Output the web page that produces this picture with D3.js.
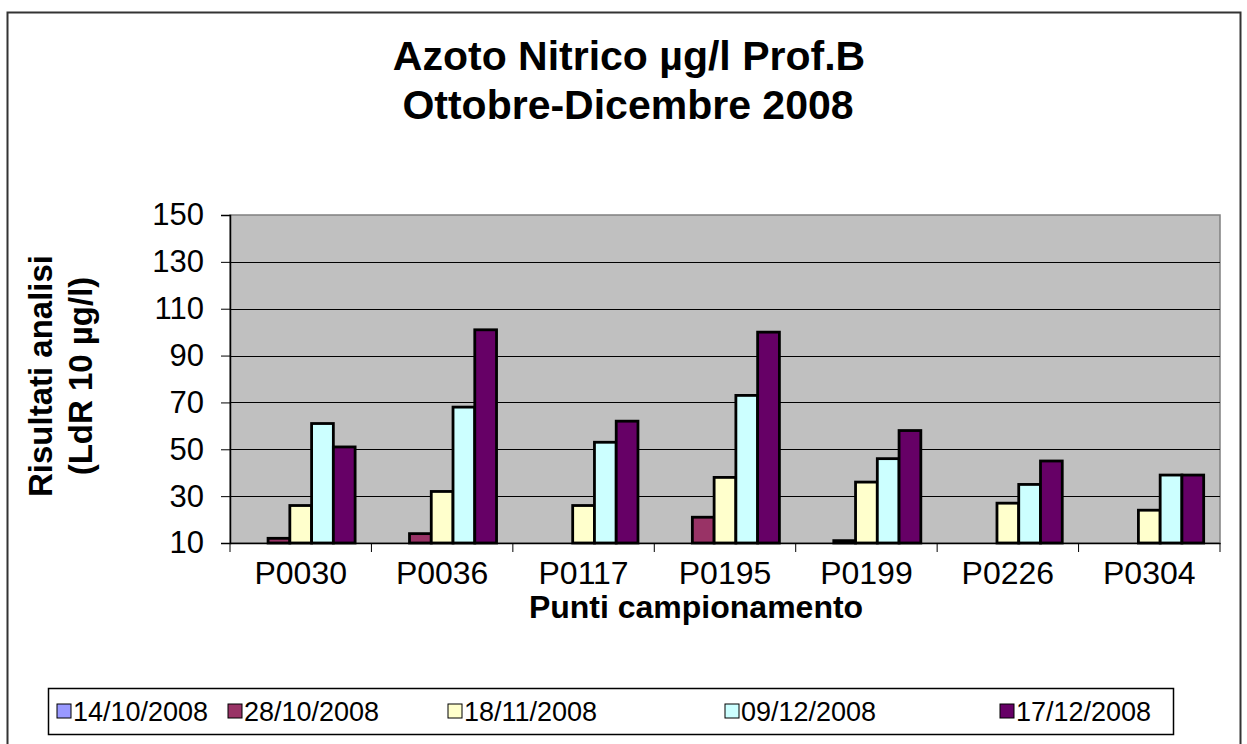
<!DOCTYPE html>
<html>
<head>
<meta charset="utf-8">
<script src="https://cdn.jsdelivr.net/npm/d3@7"></script>
<style>
  body { margin: 0; background: #fff; }
  text { font-family: "Liberation Sans", Arial, sans-serif; fill: #000; }
</style>
</head>
<body>
<figure id="chart" style="margin:0"></figure>
<script>
// data (values at or under LdR 10 show no bar)
const categories = ["P0030", "P0036", "P0117", "P0195", "P0199", "P0226", "P0304"];
const seriesNames = ["14/10/2008", "28/10/2008", "18/11/2008", "09/12/2008", "17/12/2008"];
const v14_10 = [10, 10, 10, 10, 10, 10, 10];
const v28_10 = [12, 14, 10, 21, 11, 10, 10];
const v18_11 = [26, 32, 26, 38, 36, 27, 24];
const v09_12 = [61, 68, 53, 73, 46, 35, 39];
const v17_12 = [51, 101, 62, 100, 58, 45, 39];
const yTicks = [10, 30, 50, 70, 90, 110, 130, 150];
const colors = ["#9999ff", "#993366", "#ffffcc", "#ccffff", "#660066"];

const allValues = [v14_10, v28_10, v18_11, v09_12, v17_12];

const width = 1247, height = 744;
const plot = {left: 230, right: 1220, top: 215, bottom: 543};

const svg = d3.select("#chart").append("svg")
  .attr("width", width)
  .attr("height", height);

// outer chart frame
svg.append("rect")
  .attr("x", 7.5).attr("y", 12.5)
  .attr("width", 1233).attr("height", 740)
  .attr("fill", "#fff").attr("stroke", "#333").attr("stroke-width", 2);

// title
const title = svg.append("text")
  .attr("text-anchor", "middle")
  .style("font-size", "41px").style("font-weight", "bold");
title.append("tspan").attr("x", 629).attr("y", 70).text("Azoto Nitrico µg/l Prof.B");
title.append("tspan").attr("x", 628).attr("y", 119).text("Ottobre-Dicembre 2008");

const x = d3.scaleBand()
  .domain(categories)
  .range([plot.left, plot.right]);

const xInner = d3.scaleBand()
  .domain(seriesNames)
  .range([0, x.bandwidth()])
  .paddingOuter(0.75);

const y = d3.scaleLinear()
  .domain([10, 150])
  .range([plot.bottom, plot.top]);

// plot area
svg.append("rect")
  .attr("x", plot.left).attr("y", plot.top)
  .attr("width", plot.right - plot.left).attr("height", plot.bottom - plot.top)
  .attr("fill", "#c0c0c0").attr("stroke", "#808080").attr("stroke-width", 1.5);

// gridlines
svg.append("g").selectAll("line")
  .data(yTicks.slice(1, -1))
  .enter().append("line")
  .attr("x1", plot.left).attr("x2", plot.right)
  .attr("y1", d => Math.round(y(d)) + 0.5).attr("y2", d => Math.round(y(d)) + 0.5)
  .attr("stroke", "#000").attr("stroke-width", 1);

// Add bars
const rows = [];
allValues.forEach((vals, s) => {
  vals.forEach((v, i) => {
    if (v > 10) rows.push({cat: categories[i], name: seriesNames[s], value: v, s: s});
  });
});

svg.append("g").selectAll("rect")
  .data(rows)
  .enter().append("rect")
  .attr("x", d => x(d.cat) + xInner(d.name))
  .attr("y", d => y(d.value))
  .attr("width", xInner.bandwidth())
  .attr("height", d => y(10) - y(d.value))
  .attr("fill", d => colors[d.s])
  .attr("stroke", "#000")
  .attr("stroke-width", 2.8);

// Y axis
const yAxis = svg.append("g")
  .attr("transform", "translate(" + plot.left + ",0)")
  .call(d3.axisLeft(y).tickValues(yTicks).tickSize(9).tickPadding(17));
yAxis.select(".domain").attr("stroke", "#000").attr("stroke-width", 1.5);
yAxis.selectAll("text").style("font-size", "31px")
  .style("font-family", "'Liberation Sans', Arial, sans-serif").attr("fill", "#000");

// X axis
const xAxis = svg.append("g")
  .attr("transform", "translate(0," + plot.bottom + ")")
  .call(d3.axisBottom(x).tickSize(0).tickPadding(18));
xAxis.select(".domain").attr("stroke", "#000").attr("stroke-width", 1.5);
xAxis.selectAll("text").style("font-size", "32px")
  .style("font-family", "'Liberation Sans', Arial, sans-serif").attr("fill", "#000");

// category separator ticks
svg.append("g").selectAll("line")
  .data(categories.concat(["end"]))
  .enter().append("line")
  .attr("x1", (d, i) => i < categories.length ? x(d) : plot.right)
  .attr("x2", (d, i) => i < categories.length ? x(d) : plot.right)
  .attr("y1", plot.bottom).attr("y2", plot.bottom + 9)
  .attr("stroke", "#000");

// axis titles
svg.append("text")
  .attr("x", 696).attr("y", 618)
  .attr("text-anchor", "middle")
  .style("font-size", "32px").style("font-weight", "bold")
  .text("Punti campionamento");

const yTitle = svg.append("text")
  .attr("transform", "translate(0,376) rotate(-90)")
  .attr("text-anchor", "middle")
  .style("font-size", "33px").style("font-weight", "bold");
yTitle.append("tspan").attr("x", 0).attr("y", 52).text("Risultati analisi");
yTitle.append("tspan").attr("x", 0).attr("y", 92).text("(LdR 10 µg/l)");

// legend
const legendPos = [57, 228, 448, 725, 1000];
svg.append("rect")
  .attr("x", 48.5).attr("y", 688.5)
  .attr("width", 1125).attr("height", 46)
  .attr("fill", "#fff").attr("stroke", "#000").attr("stroke-width", 1.5);

const items = svg.append("g").selectAll("g")
  .data(seriesNames)
  .enter().append("g")
  .attr("transform", (d, i) => "translate(" + legendPos[i] + ",711)");
items.append("rect")
  .attr("x", 0).attr("y", -7)
  .attr("width", 14).attr("height", 14)
  .attr("fill", (d, i) => colors[i])
  .attr("stroke", "#000").attr("stroke-width", 1);
items.append("text")
  .attr("x", 16).attr("y", 10)
  .style("font-size", "27px")
  .text(d => d);
</script>
</body>
</html>
